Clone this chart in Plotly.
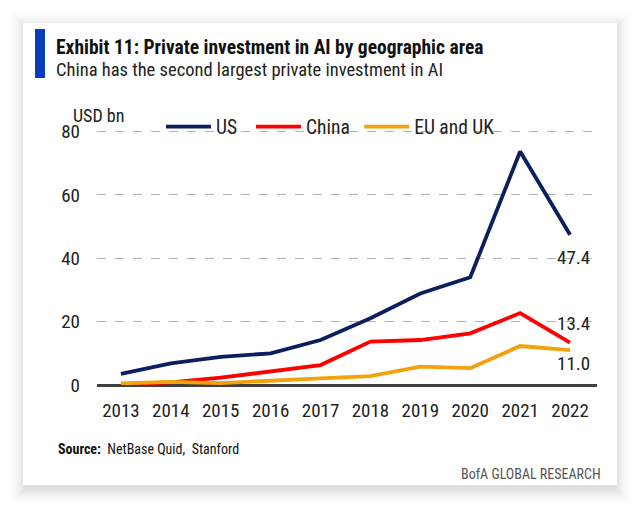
import plotly.graph_objects as go

years = [2013, 2014, 2015, 2016, 2017, 2018, 2019, 2020, 2021, 2022]
us = [3.5, 6.8, 8.9, 10.0, 14.2, 21.1, 28.9, 34.0, 73.7, 47.4]
china = [0.3, 0.8, 2.3, 4.4, 6.3, 13.7, 14.2, 16.3, 22.7, 13.4]
eu_uk = [0.5, 1.0, 0.6, 1.2, 2.1, 2.8, 5.8, 5.3, 12.3, 11.0]
y_ticks = [0, 20, 40, 60, 80]

FONT = "Liberation Sans Narrow, Roboto Condensed, Arial Narrow, Liberation Sans, sans-serif"
C_US, C_CN, C_EU = "#0b1f5e", "#ff0000", "#f2a20c"

fig = go.Figure()
for name, vals, col in [("US&nbsp;&nbsp;", us, C_US), ("China&nbsp;", china, C_CN), ("EU and UK", eu_uk, C_EU)]:
    fig.add_trace(go.Scatter(x=years, y=vals, name=name, mode="lines",
                             line=dict(color=col, width=3.8)))

# end labels
for vals, shift in [(us, -23), (china, 19), (eu_uk, -13)]:
    fig.add_annotation(x=years[-1], y=vals[-1], text=f"{vals[-1]:.1f}", showarrow=False,
                       xanchor="right", xshift=22, yshift=shift,
                       font=dict(family=FONT, size=19, color="#222"))

W, H = 640, 509
L, T, R, B = 97, 130, 597, 385
YMAX = 80.5

fig.update_layout(
    width=W, height=H,
    margin=dict(l=L, r=W - R, t=T, b=H - B),
    paper_bgcolor="white", plot_bgcolor="white",
    font=dict(family=FONT, size=19, color="#222"),
    showlegend=True,
    legend=dict(orientation="h", x=0.128, xanchor="left", y=1.012, yanchor="middle",
                bgcolor="rgba(0,0,0,0)", font=dict(size=19.5, family=FONT),
                itemwidth=45, traceorder="normal"),
    xaxis=dict(range=[2012.52, 2022.54], tickvals=years, showgrid=False, zeroline=False,
               showline=False, ticks="", tickfont=dict(size=19), ticklabelstandoff=12),
    yaxis=dict(range=[0, YMAX], tickvals=y_ticks, showgrid=True, gridcolor="#b3b3b3",
               griddash="dash", gridwidth=1.3, zeroline=True, zerolinecolor="#404040",
               zerolinewidth=2.5, ticks="", tickfont=dict(size=19), ticklabelstandoff=16),
)

def fx(x): return (x - L) / (R - L)
def fy(y): return (B - y) / (B - T)

# shadow layers + card
shapes = []
for g in range(16, 0, -1):
    op = 0.0015 + 0.0008 * (16 - g)
    shapes.append(dict(type="rect", xref="paper", yref="paper", layer="below",
                       x0=fx(23 - g + 2), x1=fx(617 + g - 1), y0=fy(485 + g + 4), y1=fy(23 - g + 4),
                       fillcolor=f"rgba(0,0,0,{op:.4f})", line=dict(width=0)))
shapes.append(dict(type="rect", xref="paper", yref="paper", layer="below",
                   x0=fx(23), x1=fx(617), y0=fy(485), y1=fy(23),
                   fillcolor="white", line=dict(width=0)))
shapes.append(dict(type="rect", xref="paper", yref="paper",
                   x0=fx(35), x1=fx(45), y0=fy(78), y1=fy(29),
                   fillcolor="#0a3cbe", line=dict(width=0)))
fig.update_layout(shapes=shapes)

fig.add_annotation(xref="paper", yref="paper", x=fx(54), y=fy(47), xanchor="left", yanchor="middle",
                   text="<b>Exhibit 11: Private investment in AI by geographic area</b>", showarrow=False,
                   font=dict(size=19.5, color="#111", family=FONT))
fig.add_annotation(xref="paper", yref="paper", x=fx(54), y=fy(70), xanchor="left", yanchor="middle",
                   text="China has the second largest private investment in AI", showarrow=False,
                   font=dict(size=18.5, color="#222", family=FONT))
fig.add_annotation(xref="paper", yref="paper", x=fx(71), y=fy(115), xanchor="left", yanchor="middle",
                   text="USD bn", showarrow=False, font=dict(size=18, color="#222", family=FONT))
fig.add_annotation(xref="paper", yref="paper", x=fx(56), y=fy(449), xanchor="left", yanchor="middle",
                   text="<b>Source:</b>  NetBase Quid,  Stanford", showarrow=False,
                   font=dict(size=14, color="#111", family=FONT))
fig.add_annotation(xref="paper", yref="paper", x=fx(603), y=fy(474), xanchor="right", yanchor="middle",
                   text="BofA GLOBAL RESEARCH", showarrow=False,
                   font=dict(size=14, color="#555", family=FONT))

fig.write_html("out.html")
